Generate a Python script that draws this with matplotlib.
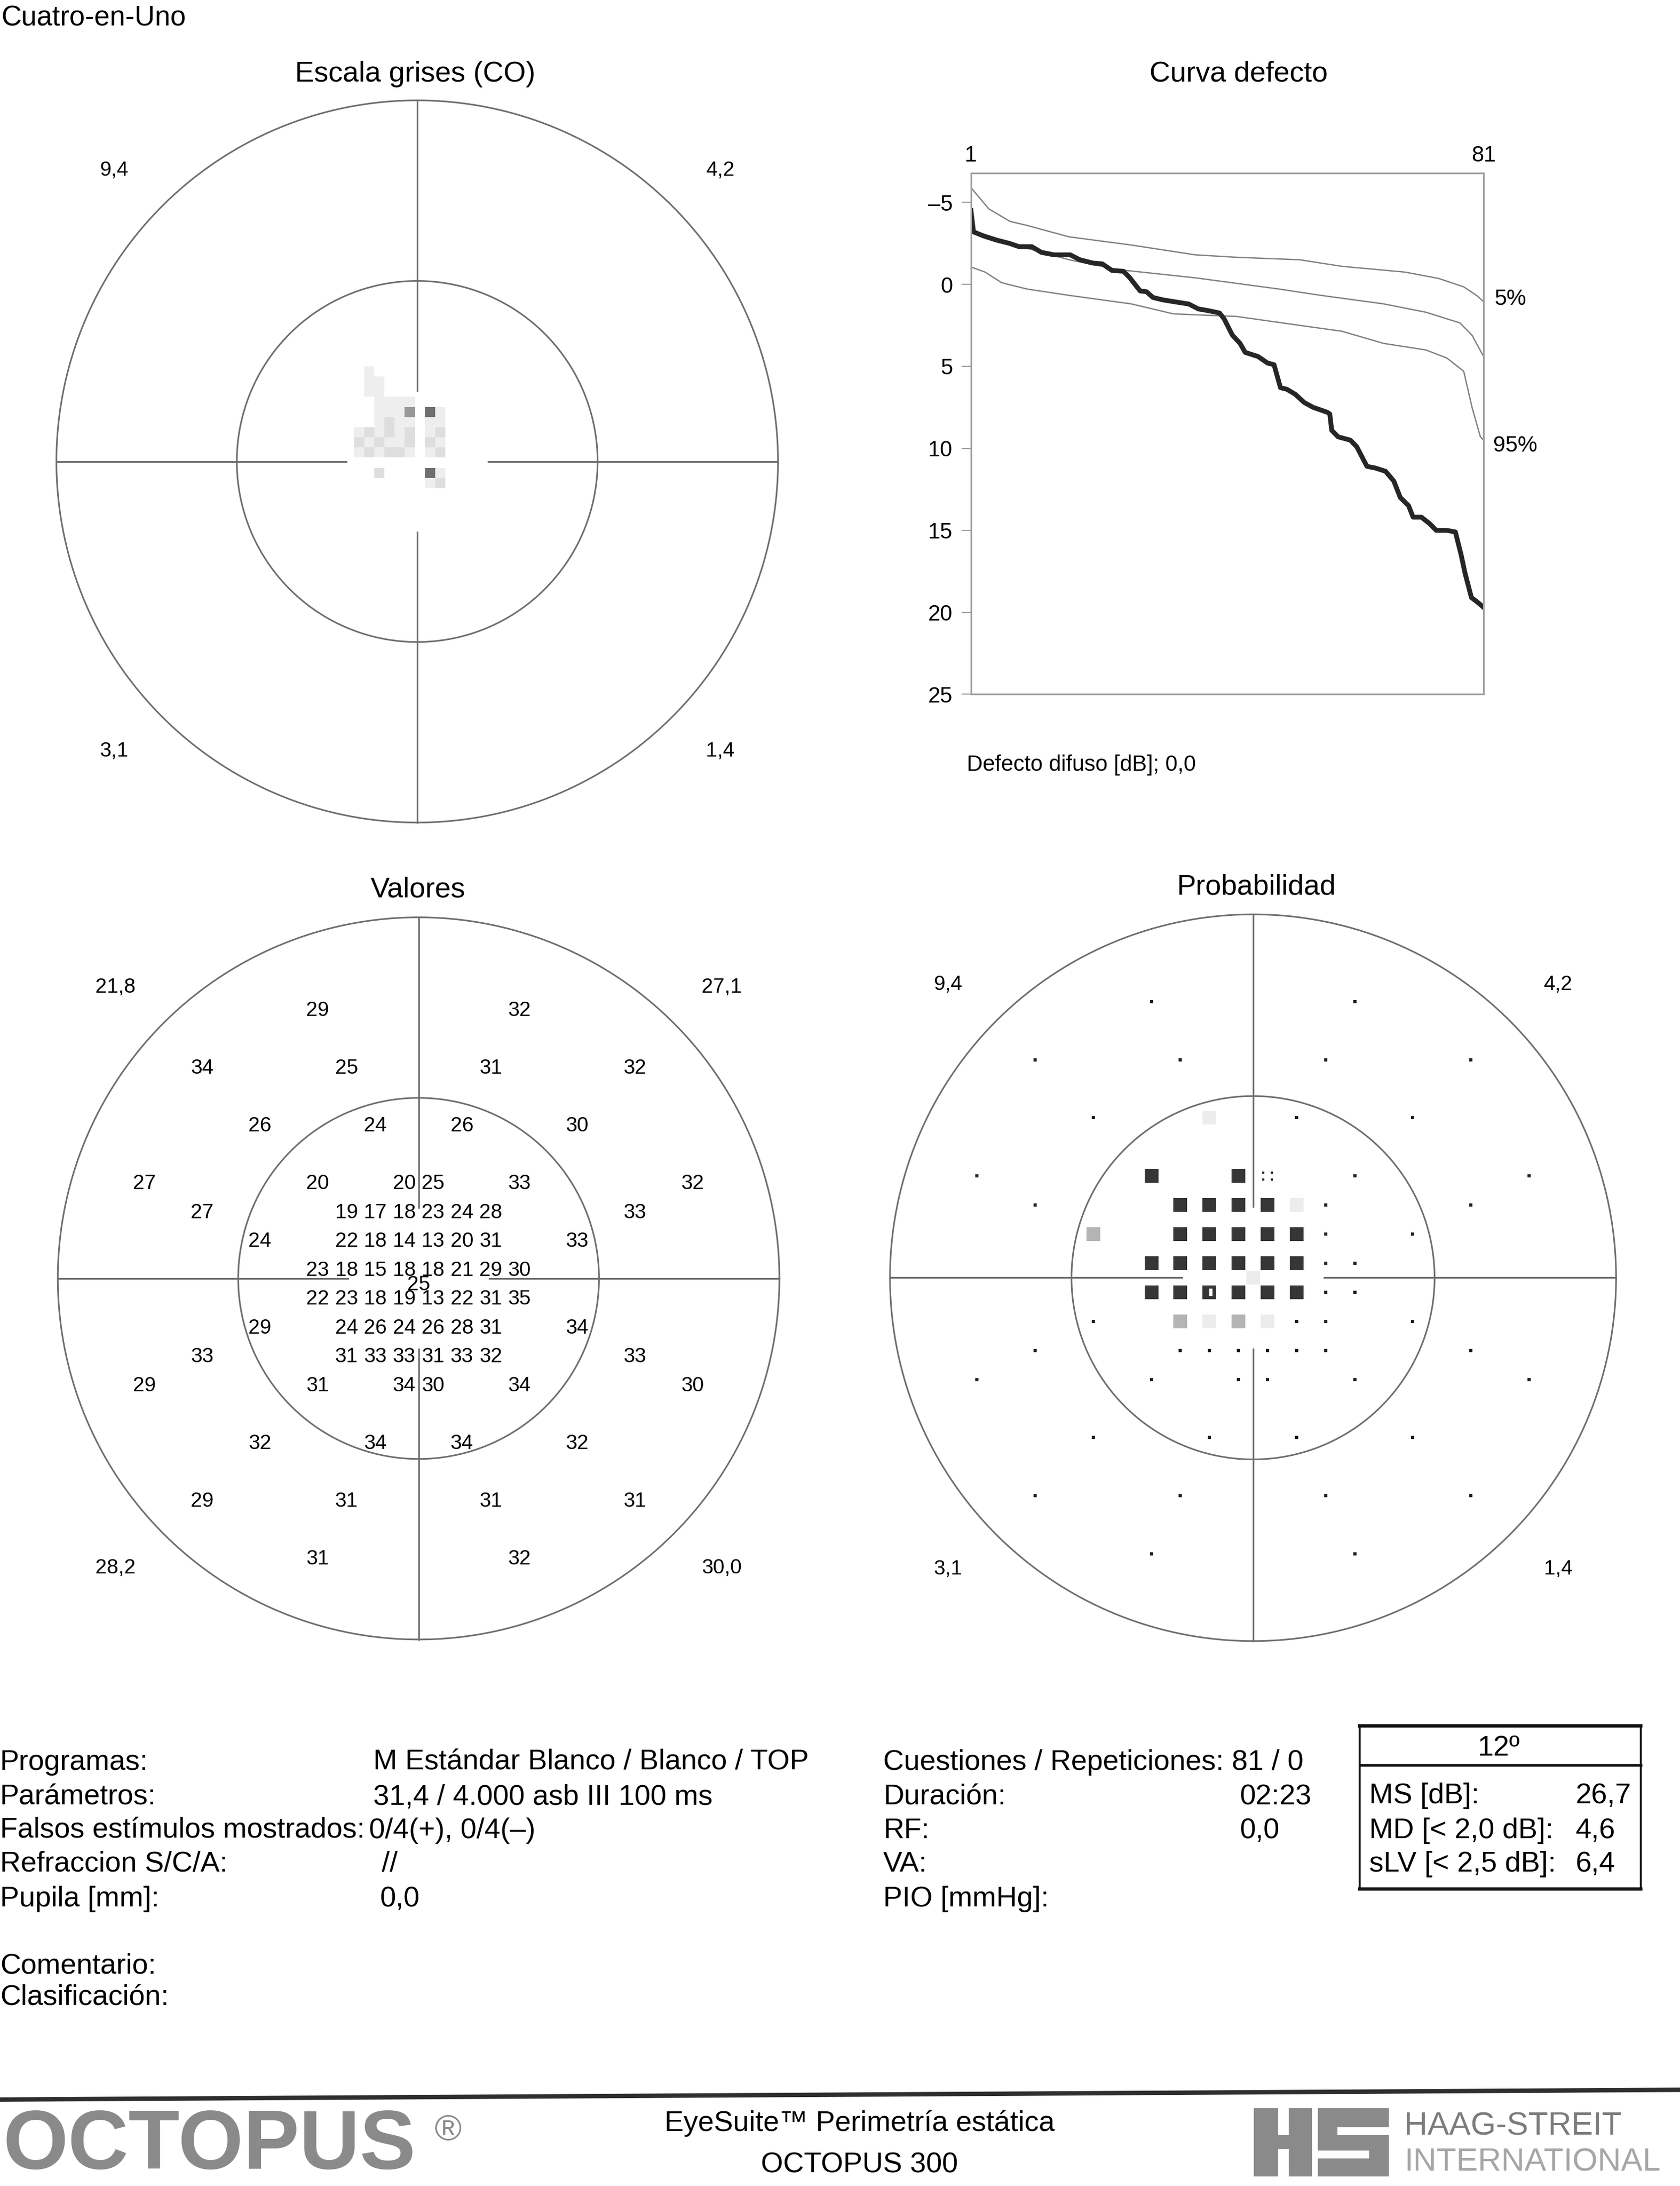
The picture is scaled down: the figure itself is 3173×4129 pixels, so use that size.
import numpy as np
import matplotlib
matplotlib.use("Agg")
from matplotlib import pyplot as plt
from matplotlib import font_manager
from matplotlib.colors import ListedColormap
from matplotlib.patches import Rectangle
from matplotlib.lines import Line2D

plt.rcParams['font.family'] = ['Liberation Sans', 'DejaVu Sans']

''' puntos de test (grados) y umbrales [dB] '''
LOC_X = [-3.5, 3.5,
         -7.5, -2.5, 2.5, 7.5,
         -5.5, -1.5, 1.5, 5.5,
         -9.5, -3.5, -0.5, 0.5, 3.5, 9.5,
         -7.5, -2.5, -1.5, -0.5, 0.5, 1.5, 2.5, 7.5,
         -5.5, -2.5, -1.5, -0.5, 0.5, 1.5, 2.5, 5.5,
         -3.5, -2.5, -1.5, -0.5, 0.5, 1.5, 2.5, 3.5,
         0.0,
         -3.5, -2.5, -1.5, -0.5, 0.5, 1.5, 2.5, 3.5,
         -5.5, -2.5, -1.5, -0.5, 0.5, 1.5, 2.5, 5.5,
         -7.5, -2.5, -1.5, -0.5, 0.5, 1.5, 2.5, 7.5,
         -9.5, -3.5, -0.5, 0.5, 3.5, 9.5,
         -5.5, -1.5, 1.5, 5.5,
         -7.5, -2.5, 2.5, 7.5,
         -3.5, 3.5]
LOC_Y = ([9.5] * 2 + [7.5] * 4 + [5.5] * 4 + [3.5] * 6 + [2.5] * 8 + [1.5] * 8
         + [0.5] * 8 + [0.0] + [-0.5] * 8 + [-1.5] * 8 + [-2.5] * 8 + [-3.5] * 6
         + [-5.5] * 4 + [-7.5] * 4 + [-9.5] * 2)
SENS = [29, 32,
        34, 25, 31, 32,
        26, 24, 26, 30,
        27, 20, 20, 25, 33, 32,
        27, 19, 17, 18, 23, 24, 28, 33,
        24, 22, 18, 14, 13, 20, 31, 33,
        23, 18, 15, 18, 18, 21, 29, 30,
        25,
        22, 23, 18, 19, 13, 22, 31, 35,
        29, 24, 26, 24, 26, 28, 31, 34,
        33, 31, 33, 33, 31, 33, 32, 33,
        29, 31, 34, 30, 34, 30,
        32, 34, 34, 32,
        29, 31, 31, 31,
        31, 32]
# 0 no significativo, 1 p<5%, 2 p<2%, 3 p<1%, 4 p<0.5%, 5 p<0.5% (hueco)
PROB = [0, 0,
        0, 0, 0, 0,
        0, 2, 0, 0,
        0, 4, 4, 1, 0, 0,
        0, 4, 4, 4, 4, 2, 0, 0,
        3, 4, 4, 4, 4, 4, 0, 0,
        4, 4, 4, 4, 4, 4, 0, 0,
        2,
        4, 4, 5, 4, 4, 4, 0, 0,
        0, 3, 2, 3, 2, 0, 0, 0,
        0, 0, 0, 0, 0, 0, 0, 0,
        0, 0, 0, 0, 0, 0,
        0, 0, 0, 0,
        0, 0, 0, 0,
        0, 0]

QUAD_GRAY = ['9,4', '4,2', '3,1', '1,4']
QUAD_VAL = ['21,8', '27,1', '28,2', '30,0']

''' escala de grises (celdas 0.35 grados) '''
GRAY_MAP = np.array([
    [0, 1, 0, 0, 0, 0, 0, 0, 0, 0],
    [0, 1, 1, 0, 0, 0, 0, 0, 0, 0],
    [0, 1, 1, 0, 0, 0, 0, 0, 0, 0],
    [0, 0, 1, 1, 1, 1, 0, 0, 0, 0],
    [0, 0, 1, 1, 1, 3, 0, 4, 1, 0],
    [0, 0, 1, 2, 1, 1, 0, 1, 1, 0],
    [1, 2, 1, 2, 1, 2, 0, 1, 2, 0],
    [2, 1, 2, 1, 1, 2, 0, 2, 1, 0],
    [1, 2, 1, 2, 2, 1, 0, 1, 2, 0],
    [0, 0, 0, 0, 0, 0, 0, 0, 0, 0],
    [0, 0, 2, 0, 0, 0, 0, 4, 1, 0],
    [0, 0, 0, 0, 0, 0, 0, 1, 2, 0],
])
GRAY_EXTENT = [-2.19, 1.31, -0.93, 3.27]

''' curva de defecto (rango, dB) '''
DEF_RANK = [1, 1.4, 3, 5, 7, 8.5, 10.5, 12, 14, 16.5, 18, 20, 21.5, 23, 24.8, 25.8,
            27.4, 28.4, 29.4, 31, 32.6, 35, 36.5, 38, 39.8, 40.5, 41.8, 43, 43.8,
            45.8, 47.3, 48.3, 49.3, 50.3, 51.6, 53, 54.4, 56.6, 57.0, 57.3, 58.3,
            60.2, 61.2, 62.8, 64.1, 65.7, 67.0, 68.0, 69.3, 70.0, 71.3, 72.6, 73.6,
            75.2, 76.6, 77.5, 78.1, 79.1, 80.1, 81]
DEF_DB = [-4.5, -3.2, -2.95, -2.7, -2.5, -2.3, -2.3, -1.95, -1.8, -1.8, -1.5, -1.3,
          -1.25, -0.85, -0.8, -0.4, 0.4, 0.45, 0.8, 0.95, 1.05, 1.2, 1.5, 1.6, 1.75,
          2.1, 3.1, 3.6, 4.15, 4.4, 4.8, 4.9, 6.3, 6.4, 6.7, 7.2, 7.5, 7.8, 7.9, 8.9,
          9.3, 9.5, 9.9, 11.1, 11.2, 11.4, 12.0, 13.0, 13.5, 14.2, 14.2, 14.6, 15.0,
          15.0, 15.1, 16.5, 17.6, 19.1, 19.4, 19.7]
P5_RANK = [1, 3.8, 7.1, 9.7, 16.3, 26, 36, 42.5, 52.3, 58.9, 68.7, 74, 77.9, 80, 81]
P5_DB = [-5.9, -4.6, -3.84, -3.6, -2.9, -2.4, -1.8, -1.65, -1.5, -1.1, -0.75, -0.36,
         0.15, 0.7, 1.06]
MED_RANK = [1, 3.2, 16.3, 24, 36, 49, 55.6, 65.4, 72, 77.3, 79.2, 81]
MED_DB = [-3.3, -2.9, -1.5, -0.9, -0.4, 0.28, 0.67, 1.19, 1.7, 2.35, 3.1, 4.4]
P95_RANK = [1, 3.2, 5.8, 9.7, 16.3, 26, 32.6, 42.5, 52.3, 58.9, 65.4, 72, 75.3, 77.9,
            79.2, 80.5, 81]
P95_DB = [-1.06, -0.75, -0.1, 0.28, 0.67, 1.19, 1.8, 1.96, 2.5, 2.86, 3.6, 4.0, 4.5,
          5.3, 7.5, 9.3, 9.5]
DEF_YTICKS = [-5, 0, 5, 10, 15, 20, 25]

''' textos del informe '''
INFO_LEFT = [('Programas:', 'M Estándar Blanco / Blanco / TOP', 268),
             ('Parámetros:', '31,4 / 4.000 asb III 100 ms', 268),
             ('Falsos estímulos mostrados:', '0/4(+), 0/4(–)', 265),
             ('Refraccion S/C/A:', '//', 274),
             ('Pupila [mm]:', '0,0', 273)]
INFO_MID = [('Cuestiones / Repeticiones: 81 / 0', ''),
            ('Duración:', '02:23'),
            ('RF:', '0,0'),
            ('VA:', ''),
            ('PIO [mmHg]:', '')]
STATS = [('MS [dB]:', '26,7'), ('MD [< 2,0 dB]:', '4,6'), ('sLV [< 2,5 dB]:', '6,4')]

W, H = 1206.0, 1568.0   # coordenadas de la maqueta
BODY = 39
SMALL = 28
LINE_C = '#6e6e6e'


def fx(x):
    return x / W


def fy(y):
    return 1 - y / H


fig = plt.figure(figsize=(31.73, 41.29), dpi=100)
fig.patch.set_facecolor('white')

R_OUT, R_IN, GAP, LIM = 12.5, 6.25, 2.45, 13.5


def fieldAxes(cx, cy, scale):
    ''' ejes de un campo visual centrado en (cx, cy) '''
    half = LIM * scale
    ax = fig.add_axes([fx(cx - half), fy(cy + half), 2 * half / W, 2 * half / H])
    ax.set_xlim(-LIM, LIM)
    ax.set_ylim(-LIM, LIM)
    ax.axis('off')
    t = np.linspace(0, 2 * np.pi, 600)
    for r in (R_OUT, R_IN):
        ax.plot(r * np.cos(t), r * np.sin(t), color=LINE_C, lw=2.2)
    ax.plot([-R_OUT, -GAP], [0, 0], color=LINE_C, lw=2.2)
    ax.plot([GAP, R_OUT], [0, 0], color=LINE_C, lw=2.2)
    ax.plot([0, 0], [GAP, R_OUT], color=LINE_C, lw=2.2)
    ax.plot([0, 0], [-R_OUT, -GAP], color=LINE_C, lw=2.2)
    return ax


def quadLabels(ax, labels):
    pos = [(-10.5, 10.15), (10.5, 10.15), (-10.5, -9.95), (10.5, -9.95)]
    for (px, py), s in zip(pos, labels):
        ax.text(px, py, s, fontsize=SMALL, ha='center', va='center_baseline')


''' titulo general '''
fig.text(fx(1), fy(11), 'Cuatro-en-Uno', fontsize=38, ha='left', va='center_baseline')

''' Escala grises '''
fig.text(fx(298), fy(51), 'Escala grises (CO)', fontsize=BODY, ha='center', va='center_baseline')
axG = fieldAxes(299.5, 331, 20.72)
grayCmap = ListedColormap(['white', '#eeeeee', '#dedede', '#989898', '#6f6f6f'])
axG.imshow(np.ma.masked_equal(GRAY_MAP, 0), cmap=grayCmap, vmin=0, vmax=4,
           extent=GRAY_EXTENT, origin='upper', interpolation='nearest', aspect='auto', zorder=3)
axG.set_xlim(-LIM, LIM)
axG.set_ylim(-LIM, LIM)
quadLabels(axG, QUAD_GRAY)

''' Valores '''
fig.text(fx(300), fy(636), 'Valores', fontsize=BODY, ha='center', va='center_baseline')
axV = fieldAxes(300.5, 917, 20.72)
for x, y, v in zip(LOC_X, LOC_Y, SENS):
    axV.text(x, y - 0.15, str(v), fontsize=SMALL, ha='center', va='center_baseline')
quadLabels(axV, QUAD_VAL)

''' Probabilidad '''
fig.text(fx(902), fy(634), 'Probabilidad', fontsize=BODY, ha='center', va='center_baseline')
axP = fieldAxes(899.5, 916.5, 20.85)
px = np.array(LOC_X)
py = np.array(LOC_Y)
pc = np.array(PROB)
m = pc == 0
axP.scatter(px[m], py[m], s=14, marker='s', color='#1e1e1e', lw=0, zorder=3)
m = pc == 1
for sx, sy in [(-1, -1), (1, -1), (-1, 1), (1, 1)]:
    axP.scatter(px[m] + sx * 0.14, py[m] + sy * 0.12, s=12, marker='s', color='#1e1e1e', lw=0, zorder=3)
m = pc == 2
axP.scatter(px[m], py[m], s=350, marker='s', color='#ececec', lw=0, zorder=3)
m = pc == 3
axP.scatter(px[m], py[m], s=350, marker='s', color='#b4b4b4', lw=0, zorder=3)
m = (pc == 4) | (pc == 5)
axP.scatter(px[m], py[m], s=350, marker='s', color='#363636', lw=0, zorder=3)
m = pc == 5
axP.scatter(px[m] + 0.05, py[m], s=110, marker=[(-0.35, -1), (0.35, -1), (0.35, 1), (-0.35, 1)],
            color='white', lw=0, zorder=4)
quadLabels(axP, QUAD_GRAY)

''' Curva defecto '''
fig.text(fx(889), fy(51), 'Curva defecto', fontsize=BODY, ha='center', va='center_baseline')
axC = fig.add_axes([fx(697), fy(498), (1065 - 697) / W, (498 - 124) / H])
axC.plot(P5_RANK, P5_DB, color='#808080', lw=1.8)
axC.plot(MED_RANK, MED_DB, color='#808080', lw=1.8)
axC.plot(P95_RANK, P95_DB, color='#808080', lw=1.8)
axC.plot(DEF_RANK, DEF_DB, color='#262626', lw=6.5, solid_joinstyle='round')
axC.set_xlim(1, 81)
axC.set_ylim(25, -6.8)
for sp in axC.spines.values():
    sp.set_color('#a0a0a0')
    sp.set_linewidth(2.2)
axC.set_yticks(DEF_YTICKS)
axC.set_yticklabels([('–' + str(-v)) if v < 0 else str(v) for v in DEF_YTICKS])
axC.tick_params(axis='y', length=12.7, width=1.6, color='#a0a0a0', labelsize=30, pad=12)
axC.set_xticks([1, 81])
axC.tick_params(axis='x', top=True, labeltop=True, bottom=False, labelbottom=False,
                length=0, labelsize=30, pad=9)
axC.text(82.7, 0.77, '5%', fontsize=30, ha='left', va='center_baseline', clip_on=False)
axC.text(82.5, 9.7, '95%', fontsize=30, ha='left', va='center_baseline', clip_on=False)
fig.text(fx(694), fy(547), 'Defecto difuso [dB]; 0,0', fontsize=30, ha='left', va='center_baseline')

''' bloque de informacion '''
rowsY = [1262, 1287, 1311, 1335, 1360]
for (lab, val, vx), y in zip(INFO_LEFT, rowsY):
    fig.text(fx(0), fy(y), lab, fontsize=BODY, ha='left', va='center_baseline')
    fig.text(fx(vx), fy(y), val, fontsize=BODY, ha='left', va='center_baseline')
for (lab, val), y in zip(INFO_MID, rowsY):
    fig.text(fx(634), fy(y), lab, fontsize=BODY, ha='left', va='center_baseline')
    if val:
        fig.text(fx(890), fy(y), val, fontsize=BODY, ha='left', va='center_baseline')
fig.text(fx(0), fy(1408), 'Comentario:', fontsize=BODY, ha='left', va='center_baseline')
fig.text(fx(0), fy(1431), 'Clasificación:', fontsize=BODY, ha='left', va='center_baseline')

''' caja de indices '''
fig.add_artist(Rectangle((fx(976), fy(1355)), (1178 - 976) / W, (1355 - 1238) / H,
                         fill=False, lw=2.6, edgecolor='#111111', transform=fig.transFigure))
for yy, lw in [(1238, 4.5), (1266, 3.5), (1355, 4.5)]:
    fig.add_artist(Line2D([fx(976), fx(1178)], [fy(yy), fy(yy)], lw=lw, color='#111111',
                          transform=fig.transFigure))
fig.text(fx(1076), fy(1252), '12º', fontsize=BODY, ha='center', va='center_baseline')
for (lab, val), y in zip(STATS, [1286, 1311, 1335]):
    fig.text(fx(983), fy(y), lab, fontsize=BODY, ha='left', va='center_baseline')
    fig.text(fx(1131), fy(y), val, fontsize=BODY, ha='left', va='center_baseline')

''' pie de pagina '''
fig.add_artist(Line2D([fx(0), fx(1206)], [fy(1506), fy(1499)], lw=6, color='#2e2e2e',
                      transform=fig.transFigure))
fig.text(fx(2), fy(1540), 'OCTOPUS', fontsize=114, fontweight='bold', color='#8a8a8a',
         ha='left', va='center')
fig.text(fx(312), fy(1528), '®', fontsize=50, color='#8a8a8a', ha='left', va='center')
fig.text(fx(617), fy(1521), 'EyeSuite™ Perimetría estática', fontsize=BODY, ha='center', va='center_baseline')
fig.text(fx(617), fy(1551), 'OCTOPUS 300', fontsize=BODY, ha='center', va='center_baseline')

axL = fig.add_axes([fx(900), fy(1561), (997 - 900) / W, (1561 - 1512) / H])
axL.set_xlim(0, 10)
axL.set_ylim(0, 5)
axL.axis('off')
axL.add_patch(Rectangle((0, 0), 10, 5, color='#8a8a8a', lw=0))
for x0, y0, w, h in [(1.8, 3.0, 0.8, 2.0), (1.8, 0, 0.8, 2.0), (4.3, 0, 0.45, 5),
                     (6.2, 3.0, 3.8, 0.6), (4.75, 1.3, 3.8, 0.6)]:
    axL.add_patch(Rectangle((x0, y0), w, h, color='white', lw=0))

names = {f.name for f in font_manager.fontManager.ttflist}
if 'Liberation Sans Narrow' in names:
    hsFam, hsSize = ['Liberation Sans Narrow', 'DejaVu Sans'], 53
else:
    hsFam, hsSize = ['Liberation Sans', 'DejaVu Sans'], 44
fig.text(fx(1008), fy(1523), 'HAAG-STREIT', fontsize=hsSize, family=hsFam, color='#7c7c7c',
         ha='left', va='center_baseline')
fig.text(fx(1008), fy(1549), 'INTERNATIONAL', fontsize=hsSize, family=hsFam, color='#a6a6a6',
         ha='left', va='center_baseline')

fig.savefig('out.png', dpi=100, facecolor='white')
